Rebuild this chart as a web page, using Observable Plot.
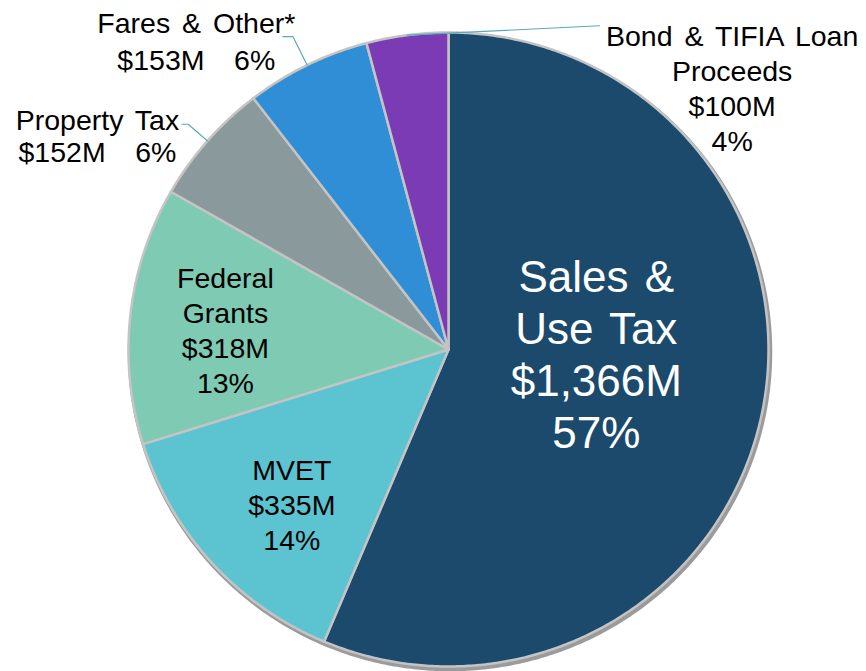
<!DOCTYPE html>
<html><head><meta charset="utf-8">
<script src="https://cdn.jsdelivr.net/npm/d3@7"></script>
<script src="https://cdn.jsdelivr.net/npm/@observablehq/plot@0.6"></script>
<style>
html,body{margin:0;padding:0;background:#fff;}
#chart svg{display:block;word-spacing:4px;}
</style>
</head><body><div id="chart"></div>
<script>
// ---- data ----
const categories = ["Sales & Use Tax","MVET","Federal Grants","Property Tax","Fares & Other*","Bond & TIFIA Loan Proceeds"];
const amounts = [1366, 335, 318, 152, 153, 100]; // $M
const percents = [57, 14, 13, 6, 6, 4];
const labelNames = ["Sales &\nUse Tax","MVET","Federal\nGrants","Property Tax","Fares & Other*","Bond & TIFIA Loan\nProceeds"];
const colors = ["#1b4a6d","#5cc3d0","#7fcab3","#8a999c","#2f8ed6","#7a3bb4"];

// ---- layout ----
const W = 866, H = 671, CX = 448, CY = 349, RX = 320, RY = 317;
const FONT = "Liberation Sans, Arial, Helvetica, sans-serif";
const layout = [
  {angle: 91.4, radius: 0.462, size: 44, fill: "#fff", lh: 1.18},
  {angle: 225.2, radius: 0.690, size: 28.5, fill: "#000", lh: 1.24},
  {angle: 275.2, radius: 0.700, size: 28.5, fill: "#000", lh: 1.23},
  {angle: 301.6, radius: 1.288, size: 28.5, fill: "#000", lh: 1.11, inline: true, leader: {elbow: 1.08, run: -0.02}},
  {angle: 321.1, radius: 1.255, size: 28.5, fill: "#000", lh: 1.27, inline: true, leader: {elbow: 1.10, run: -0.032}},
  {angle: 47.0, radius: 1.212, size: 28.5, fill: "#000", lh: 1.23, leader: {toAngle: 24.8, toRadius: 1.125}}
];

const data = categories.map((name, i) => ({name, amount: amounts[i], pct: percents[i], label: labelNames[i]}));
const arcs = d3.pie().sort(null).value(d => d.amount).startAngle(0).endAngle(2 * Math.PI)(data);
const pt = (a, r) => [r * Math.sin(a), r * Math.cos(a)];
const rad = deg => deg * Math.PI / 180;

// slice polygons
const slicePts = [];
arcs.forEach(p => {
  const name = p.data.name;
  slicePts.push({name, x: 0, y: 0});
  const n = Math.max(2, Math.ceil((p.endAngle - p.startAngle) / (Math.PI / 360)));
  for (let i = 0; i <= n; i++) {
    const a = p.startAngle + (p.endAngle - p.startAngle) * i / n;
    const [x, y] = pt(a, 1);
    slicePts.push({name, x, y});
  }
  slicePts.push({name, x: 0, y: 0});
});

// outer rim (for shadow)
const rim = d3.range(0, 721).map(i => { const [x, y] = pt(rad(i / 2), 1); return {x, y}; });

// leaders
const leaderPts = [];
arcs.forEach((p, i) => {
  const L = layout[i].leader;
  if (!L) return;
  const mid = (p.startAngle + p.endAngle) / 2;
  const name = p.data.name;
  const [x0, y0] = pt(mid, 1);
  leaderPts.push({name, x: x0, y: y0});
  if (L.elbow) {
    const [x1, y1] = pt(mid, L.elbow);
    leaderPts.push({name, x: x1, y: y1});
    leaderPts.push({name, x: x1 + L.run, y: y1});
  } else {
    const [x1, y1] = pt(rad(L.toAngle), L.toRadius);
    leaderPts.push({name, x: x1, y: y1});
  }
});

// label texts
const fmt = d3.format(",");
const labelMarks = data.map((d, i) => {
  const l = layout[i];
  const money = "$" + fmt(d.amount) + "M";
  const text = l.inline
    ? d.label + "\n" + money + "\u00a0\u00a0\u2009" + d.pct + "%"
    : d.label + "\n" + money + "\n" + d.pct + "%";
  const [x, y] = pt(rad(l.angle), l.radius);
  return Plot.text([{x, y, text}], {
    x: "x", y: "y", text: "text",
    fontSize: l.size, fill: l.fill, fontFamily: FONT, lineHeight: l.lh,
    textAnchor: "middle"
  });
});

const chart = Plot.plot({
  width: W, height: H,
  margin: 0,
  x: {domain: [-CX / RX, (W - CX) / RX], axis: null},
  y: {domain: [-(H - CY) / RY, CY / RY], axis: null},
  color: {domain: categories, range: colors},
  style: {background: "#fff", overflow: "visible"},
  marks: [
    Plot.line(rim, {x: "x", y: "y", stroke: "#222", strokeOpacity: 0.45, strokeWidth: 4.5, dx: 1.5, dy: 2.5}),
    Plot.line(slicePts, {x: "x", y: "y", z: "name", fill: "name", stroke: "#c4c4c4", strokeWidth: 2.5, strokeLinejoin: "round"}),
    Plot.line(leaderPts, {x: "x", y: "y", z: "name", stroke: "#5aaab8", strokeWidth: 1.2}),
    ...labelMarks
  ]
});
document.getElementById("chart").appendChild(chart);
</script>
</body></html>
